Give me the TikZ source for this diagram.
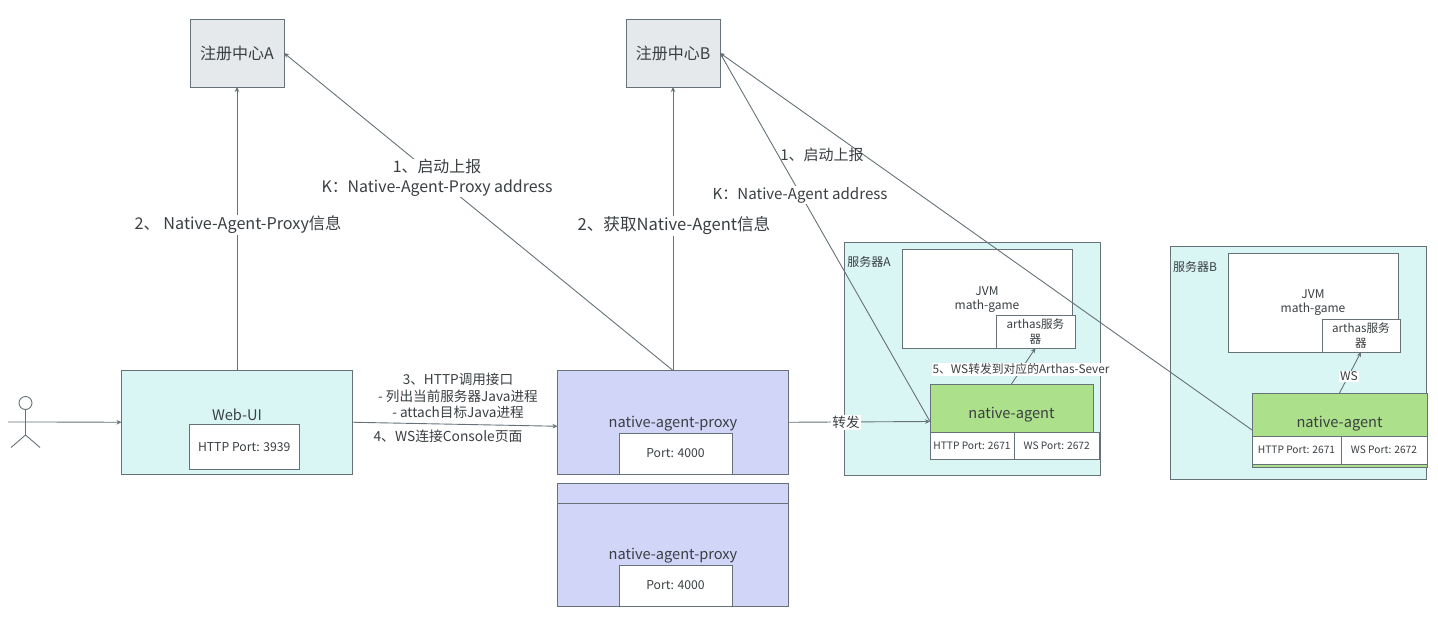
\documentclass[tikz,border=0pt]{standalone}
\usepackage{fontspec}
\setmainfont{Noto Sans CJK SC}
\usetikzlibrary{arrows.meta}
\definecolor{linec}{HTML}{667277}
\definecolor{textc}{HTML}{3A3F42}
\definecolor{regc}{HTML}{E6E9EC}
\definecolor{tealc}{HTML}{D9F5F4}
\definecolor{bluec}{HTML}{D1D5F8}
\definecolor{greenc}{HTML}{ADE08B}
\tikzset{
	box/.style={rectangle,draw=linec,line width=.9pt,inner sep=0pt,outer sep=0pt,text=textc,align=center},
	cell/.style={box,fill=white,font=\fontsize{12.2}{14}\selectfont},
	tinycell/.style={cell,font=\fontsize{10.2}{12}\selectfont},
	txt/.style={text=textc,inner sep=1pt,align=center,font=\fontsize{14.6}{16}\selectfont},
	lbl/.style={txt,fill=white,font=\fontsize{15.9}{19.5}\selectfont},
	sml/.style={txt,fill=white,font=\fontsize{13.6}{16.5}\selectfont},
}
\begin{document}
\begin{tikzpicture}[x=1pt,y=-1pt]
		\useasboundingbox (0,0) rectangle (1438,632);
		\begin{scope}[every node/.style={box,font=\fontsize{16}{18}\selectfont}]
			\node[fill=regc,minimum width=94pt,minimum height=68pt] (regA) at (237,53) {注册中心A};
			\node[fill=regc,minimum width=94pt,minimum height=68pt] (regB) at (673,53) {注册中心B};
			\node[fill=tealc,minimum width=231pt,minimum height=103.5pt] (web) at (237,422.25) {};
			\node[fill=bluec,minimum width=231pt,minimum height=103.5pt] (proxy) at (673,422.25) {};
			\node[fill=bluec,minimum width=231pt,minimum height=20pt] (proxybhead) at (673,493) {};
			\node[fill=bluec,minimum width=231pt,minimum height=103pt] (proxyb) at (673,554.5) {};
			\node[fill=tealc,minimum width=256pt,minimum height=233pt] (srvA) at (972,358.5) {};
			\node[fill=tealc,minimum width=256pt,minimum height=233pt] (srvB) at (1298.5,362.5) {};
			\node[fill=white,minimum width=170pt,minimum height=99pt] (jvmA) at (987,298.5) {};
			\node[fill=white,minimum width=170pt,minimum height=99pt] (jvmB) at (1313,302.5) {};
			\node[fill=greenc,minimum width=163pt,minimum height=75pt] (agentA) at (1011.5,421.5) {};
			\node[fill=greenc,minimum width=175pt,minimum height=74pt] (agentB) at (1339.5,430) {};
		\end{scope}

		\node[cell,minimum width=110.5pt,minimum height=45pt] (webport) at (244.25,447) {HTTP Port: 3939};
		\node[cell,minimum width=113pt,minimum height=41pt] (proxyport) at (675.5,453.5) {Port: 4000};
		\node[cell,minimum width=113pt,minimum height=41pt] (proxybport) at (675.5,585.5) {Port: 4000};
		\node[cell,minimum width=79pt,minimum height=33pt,font=\fontsize{11.6}{15}\selectfont] (arthasA) at (1035.5,331.5) {arthas服务\\器};
		\node[cell,minimum width=78pt,minimum height=33pt,font=\fontsize{11.6}{15}\selectfont] (arthasB) at (1361,335.5) {arthas服务\\器};
		\node[tinycell,minimum width=84pt,minimum height=27pt] (httpA) at (972,445.5) {HTTP Port: 2671};
		\node[tinycell,minimum width=85.5pt,minimum height=27pt] (wsA) at (1056.75,445.5) {WS Port: 2672};
		\node[tinycell,minimum width=89pt,minimum height=28pt] (httpB) at (1296.5,450) {HTTP Port: 2671};
		\node[tinycell,minimum width=86pt,minimum height=28pt] (wsB) at (1384,450) {WS Port: 2672};

		\node[txt] (webtxt) at (237,415) {Web-UI};
		\node[txt] (proxytxt) at (673,424) {native-agent-proxy};
		\node[txt] (proxybtxt) at (673,556) {native-agent-proxy};
		\node[txt] (agentAtxt) at (1011.5,414.5) {native-agent};
		\node[txt] (agentBtxt) at (1339.5,423.5) {native-agent};
		\node[txt,font=\fontsize{12}{14}\selectfont] (jvmAtxt) at (987,299.5) {JVM\\math-game};
		\node[txt,font=\fontsize{12}{14}\selectfont] (jvmBtxt) at (1313,302.5) {JVM\\math-game};
		\node[txt,font=\fontsize{12}{14}\selectfont] (srvAtxt) at (869,261.5) {服务器A};
		\node[txt,font=\fontsize{12}{14}\selectfont] (srvBtxt) at (1195,266.5) {服务器B};

		\node[circle,draw=linec,line width=.9pt,inner sep=0pt,minimum size=13pt] (head) at (25.5,403) {};
		\coordinate (hip) at (25.5,435);
		\coordinate (armL) at (8,422);
		\coordinate (armR) at (43,422);
		\coordinate (legL) at (11,447.5);
		\coordinate (legR) at (40,447.5);
		\draw[linec,line width=.9pt] (head) -- (hip) -- (legL) (hip) -- (legR) (armL) -- (armR);

		\begin{scope}[>={Stealth[length=5pt,width=4.5pt]},
		              every edge/.style={draw=linec,line width=.9pt,->}]
			\path (armR) edge (web.west);
			\path (web.north) edge (regA.south);
			\path (proxy.north) edge (regA.east);
			\path (proxy.north) edge (regB.south);
			\path (web.east) edge ([yshift=-4pt]proxy.west);
			\path (proxy.east) edge (agentA.west);
			\path (agentA.west) edge (regB.east);
			\path (agentB.west) edge (regB.east);
			\path (agentA.north) edge (arthasA.south);
			\path (agentB.north) edge (arthasB.south);
		\end{scope}

		\node[lbl,font=\fontsize{16.2}{19.5}\selectfont] (lblwebreg) at (238,225) {2、 Native-Agent-Proxy信息};
		\node[lbl] (lblproxyregA) at (437,178) {1、启动上报\\K：Native-Agent-Proxy address};
		\node[lbl,font=\fontsize{16.6}{19.5}\selectfont] (lblproxyregB) at (674,226) {2、获取Native-Agent信息};
		\node[lbl,fill=none,font=\fontsize{15}{19.5}\selectfont] (lblagentup) at (822,155) {1、启动上报};
		\node[lbl,font=\fontsize{15.1}{19.5}\selectfont] (lblagentkey) at (800,195) {K：Native-Agent address};
		\node[sml] (lblcall) at (458,396) {3、HTTP调用接口\\- 列出当前服务器Java进程\\- attach目标Java进程};
		\node[sml,font=\fontsize{13.8}{16.5}\selectfont] (lblws) at (448,436.5) {4、WS连接Console页面};
		\node[sml] (lblfwd) at (846,422.5) {转发};
		\node[sml,font=\fontsize{11.8}{14}\selectfont] (lblarthas) at (1021,369.5) {5、WS转发到对应的Arthas-Sever};
		\node[sml,font=\fontsize{12}{14}\selectfont] (lblwsB) at (1349,376.5) {WS};
		\end{tikzpicture}
\end{document}
